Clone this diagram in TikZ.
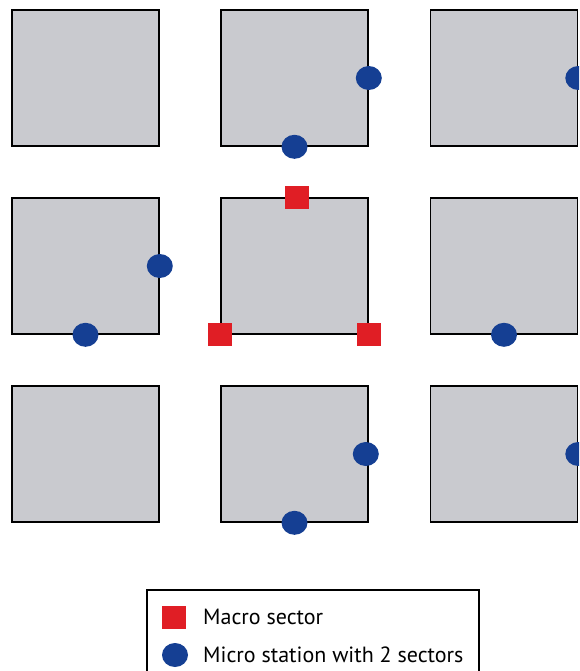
\documentclass[tikz,border=0pt]{standalone}
\usepackage{fontspec}
\setmainfont{PT Sans}
\usepackage{tikz}
\usetikzlibrary{positioning,shapes.geometric}
\definecolor{CellGray}{HTML}{C9CACF}
\definecolor{MicroBlue}{HTML}{153F93}
\definecolor{MacroRed}{HTML}{E01E25}

\begin{document}
\begin{tikzpicture}[x=1pt,y=-1pt,
  cell/.style={draw=black,line width=1.6pt,fill=CellGray,minimum width=147pt,minimum height=136pt,inner sep=0pt},
  micro/.style={ellipse,fill=MicroBlue,minimum width=26pt,minimum height=24pt,inner sep=0pt},
  macro/.style={fill=MacroRed,minimum width=24pt,minimum height=23pt,inner sep=0pt},
  legtext/.style={font=\fontsize{22}{26}\selectfont,anchor=west,inner sep=0pt}]
\useasboundingbox (0,0) rectangle (579,671);
\clip (0,0) rectangle (579,671);
% grid of cells, rows 1..3, columns 1..3
\foreach \r/\y in {1/78,2/266,3/454}
  \foreach \c/\x in {1/85.5,2/294.5,3/504}
    \node[cell] (c\r\c) at (\x,\y) {};
% micro stations
\node[micro] (m1) at (c12.east) {};
\node[micro] (m2) at (c12.south) {};
\node[micro] (m3) at (c13.east) {};
\node[micro] (m4) at (c21.east) {};
\node[micro] (m5) at (c21.south) {};
\node[micro] (m6) at (c23.south) {};
\node[micro] (m7) at ([xshift=-3pt]c32.east) {};
\node[micro] (m8) at (c32.south) {};
\node[micro] (m9) at (c33.east) {};
% macro sectors
\node[macro] (s1) at ([xshift=2pt]c22.north) {};
\node[macro] (s2) at (c22.south west) {};
\node[macro] (s3) at (c22.south east) {};
% legend
\draw[line width=1.4pt,fill=white] (147,590) rectangle (479,690);
\node[macro] (lmacro) at (174,617) {};
\node[micro] (lmicro) at (175,655) {};
\node[legtext] (tmacro) at (203,617) {Macro sector};
\node[legtext] (tmicro) at (203,655) {Micro station with 2 sectors};
\end{tikzpicture}
\end{document}
